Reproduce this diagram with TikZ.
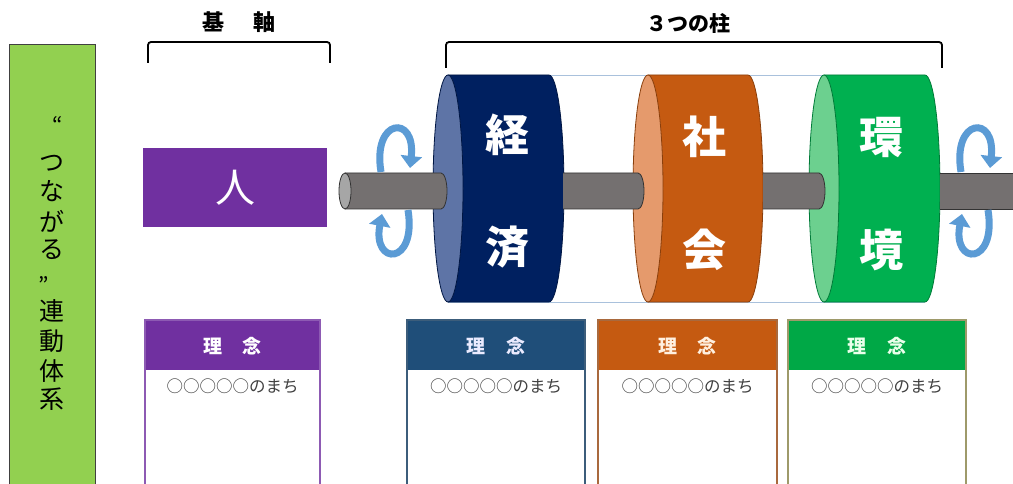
\documentclass[tikz,border=0pt]{standalone}
\usepackage{fontspec}
\newfontfamily\jp{Noto Sans CJK JP}
\usetikzlibrary{arrows.meta}

\definecolor{leafgreen}{HTML}{92D050}
\definecolor{humanpurple}{HTML}{7030A0}
\definecolor{econbody}{HTML}{002060}
\definecolor{econface}{HTML}{5E74A6}
\definecolor{socbody}{HTML}{C55A11}
\definecolor{socface}{HTML}{E59A6C}
\definecolor{envbody}{HTML}{00B050}
\definecolor{envface}{HTML}{6CD08F}
\definecolor{rodgray}{HTML}{747070}
\definecolor{rodcap}{HTML}{A6A6A6}
\definecolor{spinblue}{HTML}{5B9BD5}
\definecolor{hullblue}{HTML}{A9C1DC}
\definecolor{cardnavy}{HTML}{1F4E79}
\definecolor{cardgreen}{HTML}{00A846}
\definecolor{memo}{HTML}{404040}

\tikzset{
  bracketline/.style={line width=1.8pt, rounded corners=3pt},
  headlabel/.style={font=\jp\bfseries\fontsize{22}{22}\selectfont, text=black},
  vtext/.style={font=\jp\fontsize{25}{25}\selectfont, text=black, inner sep=0pt},
  quotemark/.style={font=\jp\fontsize{22}{22}\selectfont, text=black, inner sep=0pt},
  bigchar/.style={font=\jp\bfseries\fontsize{44}{44}\selectfont, text=white, inner sep=0pt},
  spinarrow/.style={line width=7pt, draw=spinblue, -{Triangle[width=21pt,length=12pt]}},
  rodline/.style={draw=black!80, line width=0.8pt},
  cardtitle/.style={font=\jp\bfseries\fontsize{19}{19}\selectfont, inner sep=0pt},
  cardtext/.style={font=\jp\fontsize{16.5}{16.5}\selectfont, text=memo, inner sep=0pt},
}

% one pillar: face centre x, body end x, face colour, body colour
\newcommand\pillar[4]{%
  \filldraw[fill=#4, draw=#4!70!black, line width=0.8pt]
    (#1,75) -- (#2,75) arc[start angle=90, end angle=-90, x radius=15pt, y radius=113.5pt]
    -- (#1,302) -- cycle;
  \filldraw[fill=#3, draw=#4!70!black, line width=0.8pt]
    (#1,188.5) ellipse [x radius=15pt, y radius=113.5pt];
}
% one piece of the shaft: start x, end x (rounded end)
\newcommand\shaft[2]{%
  \fill[rodgray] (#1,173) -- (#2,173) arc[start angle=90, end angle=-90, x radius=6pt, y radius=18pt]
    -- (#1,209) -- cycle;
  \draw[rodline] (#1,173) -- (#2,173) arc[start angle=90, end angle=-90, x radius=6pt, y radius=18pt]
    -- (#1,209);
}
% one card: left x, right x, header colour, border colour, title colour, name
\newcommand\card[6]{%
  \fill[#3] (#1,320) rectangle (#2,370);
  \draw[#4, line width=1.8pt] (#1,484) -- (#1,320) -- (#2,320) -- (#2,484);
  \node[cardtitle, text=#5] (#6title) at ({(#1+#2)/2},346) {理\hspace{1.1em}念};
  \node[cardtext] (#6text) at ({(#1+#2)/2},386) {○○○○○のまち};
}

\begin{document}
\begin{tikzpicture}[x=1pt, y=-1pt]
\useasboundingbox (0,0) rectangle (1013,484);
\fill[white] (0,0) rectangle (1013,484);

% side panel
\filldraw[fill=leafgreen, draw=black!75, line width=1pt] (9,484) -- (9,45) -- (95,45) -- (95,484);
\node[quotemark] (qopen) at (58,134) {\smash{“}};
\foreach \ch/\yy [count=\i] in {つ/163,な/191,が/221,る/250,連/311,動/341,体/371,系/399}
  \node[vtext] (v\i) at (52,\yy) {\ch};
\node[quotemark] (qclose) at (44,279) {\smash{„}};

% headings with brackets
\node[headlabel] (axislabel) at (239,22) {基\hspace{1.3em}軸};
\draw[bracketline] (148,63) -- (148,42) -- (330,42) -- (330,63);
\node[headlabel, font=\jp\bfseries\fontsize{21}{21}\selectfont] (pillarlabel) at (688,23) {３つの柱};
\draw[bracketline] (446,68) -- (446,42) -- (942,42) -- (942,68);

% person block
\node[fill=humanpurple, minimum width=184pt, minimum height=79pt, inner sep=0pt,
      font=\jp\fontsize{40}{40}\selectfont, text=white] (person) at (235,187.5) {人};

% outline of the common drum
\draw[hullblue, line width=0.8pt] (448,75) -- (925,75);
\draw[hullblue, line width=0.8pt] (448,302) -- (925,302);

% pillars
\pillar{448}{549}{econface}{econbody}
\pillar{648}{748}{socface}{socbody}
\pillar{824}{925}{envface}{envbody}

% shaft
\shaft{345}{441}
\filldraw[fill=rodcap, draw=black!80, line width=0.8pt] (345,191) ellipse [x radius=6pt, y radius=18pt];
\shaft{563}{638}
\shaft{763}{819}
\fill[rodgray] (940,173) rectangle (1013,209);
\draw[rodline] (940,173) -- (1013,173);
\draw[rodline] (940,209) -- (1013,209);

% pillar names
\node[bigchar] (keizai1) at (507,135) {経};
\node[bigchar] (keizai2) at (507,247) {済};
\node[bigchar] (shakai1) at (704,137) {社};
\node[bigchar] (shakai2) at (704,250) {会};
\node[bigchar] (kankyo1) at (881,137) {環};
\node[bigchar] (kankyo2) at (881,250) {境};

% rotation marks
\draw[spinarrow] (381,172) .. controls (372,118) and (416,114) .. (410,168);
\draw[spinarrow] (408,210) .. controls (417,266) and (372,266) .. (382,214);
\draw[spinarrow] (961,172) .. controls (952,118) and (996,114) .. (990,168);
\draw[spinarrow] (988,210) .. controls (997,266) and (952,266) .. (962,214);

% cards
\card{145}{320}{humanpurple}{humanpurple!80}{white}{c1}
\card{407}{585}{cardnavy}{cardnavy!70!gray}{blue!8}{c2}
\card{598}{777}{socbody}{socbody!60!gray}{orange!12}{c3}
\card{788}{966}{cardgreen}{black!45!olive!60}{green!8}{c4}
\end{tikzpicture}
\end{document}
